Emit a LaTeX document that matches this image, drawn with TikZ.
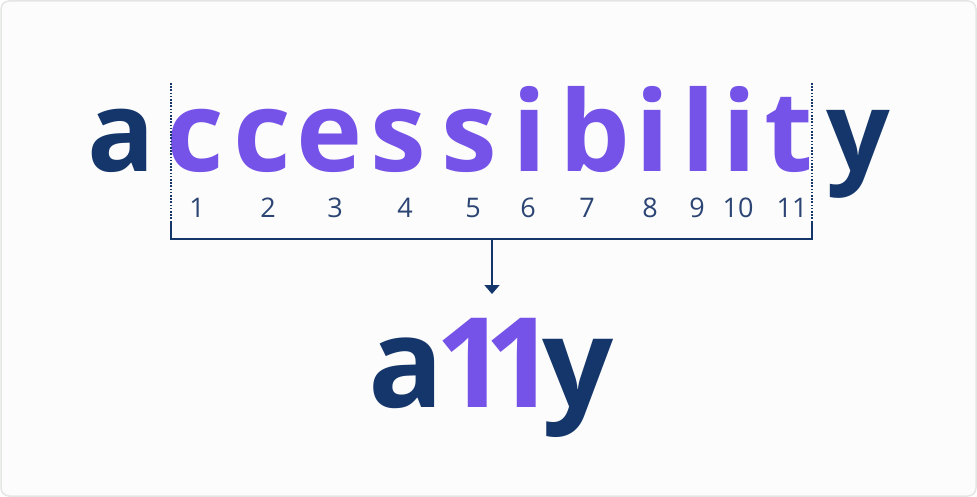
\documentclass[tikz,border=0pt]{standalone}
\usepackage{fontspec}
\setmainfont{Open Sans}
\usetikzlibrary{arrows.meta}
\definecolor{navy}{HTML}{15366B}
\definecolor{purp}{HTML}{7552E8}
\definecolor{numc}{HTML}{2C4574}
\definecolor{bg}{HTML}{FBFCFB}
\definecolor{frame}{HTML}{E4E6E4}
\tikzset{
  big/.style={font=\fontsize{112}{112}\selectfont\bfseries, anchor=base, inner sep=0pt},
  huge/.style={font=\fontsize{125}{125}\selectfont\bfseries, anchor=base, inner sep=0pt},
  num/.style={font=\fontsize{27}{27}\selectfont, text=numc, anchor=base, inner sep=0pt},
  guide/.style={navy, line width=1.9pt, dash pattern=on 1.6pt off 1.6pt},
  bracket/.style={navy, line width=1.9pt},
}
\begin{document}
\begin{tikzpicture}[x=1pt,y=-1pt]
\useasboundingbox (0,0) rectangle (977,497);
\draw[frame, fill=bg, line width=1.5pt, rounded corners=8pt] (1,1) rectangle (976,496);
% word
\node[big, text=navy] (a) at (121.5,172) {a};
\foreach \ch/\x/\nm in {c/195/c1, c/262/c2, e/329.5/e1, s/398.5/s1, s/469/s2, i/530/i1, b/595/b1, i/653/i2, l/699/l1, i/740/i3, t/789/t1}
  \node[big, text=purp] (\nm) at (\x,172) {\ch};
\node[big, text=navy] (y) at (858.5,172) {y};
% numbers
\foreach \n/\x in {1/197, 2/268, 3/335, 4/405, 5/473, 6/528, 7/587, 8/650, 9/697, 10/738, 11/792}
  \node[num] (n\n) at (\x,218) {\n};
% guides
\coordinate (lt) at (171,83);
\coordinate (lb) at (171,222);
\coordinate (rt) at (812,83);
\coordinate (rb) at (812,222);
\coordinate (lbar) at (171,239);
\coordinate (rbar) at (812,239);
\coordinate (mid) at (492,239);
\coordinate (tip) at (492,294);
\draw[guide] (lt) -- (lb);
\draw[guide] (rt) -- (rb);
\draw[bracket] (lb) -- (lbar) -- (rbar) -- (rb);
\draw[bracket, -{Triangle[width=15pt,length=9pt]}] (mid) -- (tip);
% a11y
\node[huge, text=navy] (sa) at (406.5,407) {a};
\node[huge, text=purp] (s1) at (471.5,407) {1};
\node[huge, text=purp] (s2) at (520,407) {1};
\node[huge, text=navy] (sy) at (578.5,407) {y};
\end{tikzpicture}
\end{document}
